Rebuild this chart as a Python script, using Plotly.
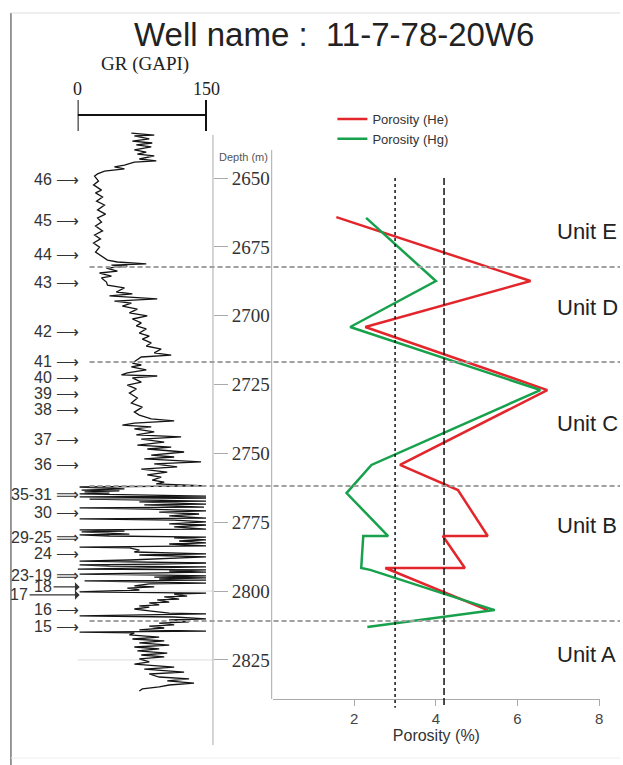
import plotly.graph_objects as go

# ---------------- data ----------------
# Gamma-ray log (depth in m, GR in GAPI)
gr_depth = [
    2633.7, 2634.4, 2634.7, 2635.8, 2636.6, 2637.3, 2638.0, 2638.7, 2639.8, 2640.6,
    2641.3, 2642.0, 2643.1, 2643.8, 2644.2, 2645.3, 2646.0, 2646.7, 2647.5, 2648.5,
    2649.3, 2651.1, 2652.5, 2654.4, 2655.4, 2656.9, 2658.4, 2659.8, 2661.6, 2663.1,
    2664.5, 2666.0, 2667.4, 2669.2, 2670.7, 2672.1, 2673.6, 2675.1, 2676.9, 2678.3,
    2679.8, 2680.5, 2681.2, 2681.6, 2682.0, 2682.7, 2683.8, 2684.5, 2685.6, 2686.3,
    2687.8, 2688.9, 2689.9, 2691.4, 2692.1, 2692.8, 2693.9, 2694.7, 2695.4, 2696.5,
    2697.6, 2699.0, 2700.1, 2701.2, 2702.6, 2703.7, 2704.8, 2706.3, 2707.4, 2708.5,
    2709.9, 2711.0, 2712.1, 2713.5, 2714.3, 2715.0, 2716.1, 2717.2, 2717.9, 2718.6,
    2719.7, 2720.8, 2721.5, 2721.9, 2722.6, 2724.1, 2725.2, 2726.6, 2728.1, 2729.9,
    2731.7, 2733.2, 2735.0, 2736.1, 2737.5, 2738.2, 2739.0, 2739.7, 2740.4, 2741.1,
    2742.2, 2743.3, 2744.0, 2744.8, 2745.9, 2747.0, 2747.7, 2748.4, 2749.5, 2750.6,
    2751.3, 2752.0, 2753.1, 2753.8, 2754.9, 2755.7, 2756.8, 2757.8, 2758.6, 2759.7,
    2760.4, 2761.1, 2761.8, 2762.2, 2762.9, 2763.3, 2763.6, 2764.0, 2764.4, 2764.7,
    2765.5, 2765.8, 2766.2, 2766.6, 2767.3, 2767.6, 2768.4, 2768.7, 2769.5, 2769.8,
    2770.2, 2770.9, 2771.3, 2772.0, 2772.7, 2773.5, 2773.8, 2774.2, 2774.9, 2775.6,
    2776.0, 2776.7, 2777.5, 2777.8, 2778.2, 2778.5, 2779.3, 2779.6, 2780.0, 2780.4,
    2780.7, 2781.4, 2781.8, 2782.5, 2782.9, 2783.6, 2784.0, 2784.3, 2785.1, 2785.8,
    2786.5, 2786.9, 2787.6, 2788.7, 2789.1, 2789.4, 2789.8, 2790.2, 2790.5, 2790.9,
    2791.2, 2791.6, 2792.0, 2792.3, 2792.7, 2793.1, 2793.4, 2793.8, 2794.2, 2794.5,
    2794.9, 2795.2, 2795.6, 2796.0, 2796.3, 2796.7, 2797.1, 2797.4, 2798.1, 2798.5,
    2798.9, 2799.6, 2800.3, 2800.7, 2801.1, 2801.8, 2802.1, 2802.9, 2803.2, 2804.0,
    2804.3, 2805.0, 2805.4, 2805.8, 2806.5, 2807.2, 2808.0, 2808.3, 2808.7, 2809.0,
    2809.4, 2810.1, 2810.5, 2811.2, 2811.6, 2812.3, 2812.7, 2813.4, 2814.1, 2814.5,
    2814.9, 2815.2, 2815.9, 2816.7, 2817.4, 2818.1, 2818.8, 2819.6, 2820.3, 2821.0,
    2821.7, 2822.5, 2823.2, 2823.9, 2824.6, 2825.7, 2826.5, 2827.6, 2828.3, 2829.4,
    2830.1, 2831.2, 2831.9, 2832.6, 2833.4, 2834.1, 2834.8, 2835.5, 2836.3,
]
gr_api = [
    62.8, 89.5, 66.3, 83.7, 64.0, 87.2, 68.6, 86.0, 66.3, 80.2,
    69.8, 89.5, 72.1, 91.9, 66.3, 54.7, 43.0, 54.7, 31.4, 23.3,
    19.8, 24.4, 18.6, 27.9, 20.9, 29.1, 22.1, 31.4, 23.3, 32.6,
    23.3, 27.9, 20.9, 29.1, 19.8, 26.7, 18.6, 25.6, 20.9, 27.9,
    34.9, 46.5, 80.2, 39.5, 58.1, 33.7, 46.5, 25.6, 39.5, 27.9,
    33.7, 34.9, 54.7, 45.3, 64.0, 37.2, 93.0, 43.0, 62.8, 52.3,
    69.8, 60.5, 81.4, 64.0, 74.4, 68.6, 80.2, 72.1, 83.7, 75.6,
    86.0, 80.2, 97.7, 89.5, 109.3, 74.4, 68.6, 64.0, 74.4, 62.8,
    80.2, 58.1, 51.2, 93.0, 64.0, 74.4, 58.1, 68.6, 60.5, 69.8,
    62.8, 75.6, 66.3, 72.1, 86.0, 112.8, 66.3, 52.3, 86.0, 66.3,
    89.5, 68.6, 120.9, 74.4, 101.2, 69.8, 109.3, 81.4, 124.4, 86.0,
    112.8, 77.9, 144.2, 89.5, 116.3, 74.4, 104.7, 81.4, 97.7, 87.2,
    101.2, 91.9, 150.0, 2.3, 54.7, 4.7, 48.8, 8.1, 37.2, 2.3,
    150.0, 2.3, 150.0, 14.0, 150.0, 72.1, 150.0, 77.9, 147.7, 2.3,
    83.7, 150.0, 95.3, 141.9, 107.0, 150.0, 2.3, 112.8, 150.0, 107.0,
    150.0, 112.8, 150.0, 2.3, 54.7, 4.7, 60.5, 2.3, 37.2, 150.0,
    112.8, 150.0, 118.6, 150.0, 107.0, 150.0, 2.3, 60.5, 72.1, 66.3,
    150.0, 72.1, 150.0, 60.5, 2.3, 83.7, 150.0, 95.3, 2.3, 37.2,
    150.0, 83.7, 0.0, 150.0, 107.0, 150.0, 95.3, 2.3, 101.2, 150.0,
    89.5, 150.0, 95.3, 150.0, 8.1, 83.7, 150.0, 83.7, 66.3, 89.5,
    58.1, 72.1, 2.3, 150.0, 112.8, 127.9, 101.2, 118.6, 93.0, 107.0,
    83.7, 95.3, 72.1, 83.7, 66.3, 83.7, 107.0, 150.0, 77.9, 2.3,
    112.8, 150.0, 107.0, 130.2, 95.3, 112.8, 83.7, 101.2, 72.1, 150.0,
    2.3, 66.3, 60.5, 95.3, 64.0, 101.2, 72.1, 107.0, 66.3, 95.3,
    69.8, 104.7, 74.4, 101.2, 72.1, 83.7, 66.3, 112.8, 77.9, 124.4,
    83.7, 95.3, 130.2, 104.7, 136.0, 107.0, 95.3, 75.6, 72.1,
]

# Core porosity (%), helium and mercury methods
he_depth = [2664.2, 2687.4, 2704.1, 2727.0, 2754.2, 2763.3, 2780.0, 2780.0, 2791.6, 2791.6, 2806.9]
he_poro = [1.56, 6.32, 2.27, 6.73, 3.12, 4.54, 5.27, 4.17, 4.71, 2.76, 5.27]
hg_depth = [2664.5, 2687.4, 2704.1, 2727.0, 2754.2, 2764.4, 2780.0, 2780.0, 2791.6, 2792.3, 2806.9, 2813.0]
hg_poro = [2.29, 4.00, 1.90, 6.56, 2.42, 1.81, 2.83, 2.22, 2.17, 2.39, 5.44, 2.32]

# Porosity cut-off lines
cutoff_values = [3.0, 4.2]
cutoff_dash = ["dot", "7px,3px"]
cutoff_top, cutoff_base = 2650.0, 2842.4

# Unit boundaries and labels
unit_bounds = [2682.3, 2716.8, 2761.8, 2810.9]
unit_names = ["Unit E", "Unit D", "Unit C", "Unit B", "Unit A"]
unit_depths = [2669.6, 2697.2, 2739.0, 2776.0, 2823.2]

# Sample numbers along the GR track
sample_labels = ["46", "45", "44", "43", "42", "41", "40", "39", "38", "37", "36",
                 "35-31", "30", "29-25", "24", "23-19", "18", "17", "16", "15"]
sample_depths = [2650.4, 2665.6, 2677.6, 2688.1, 2705.6, 2716.5, 2722.3, 2728.1, 2733.9,
                 2745.1, 2754.2, 2765.1, 2771.6, 2780.4, 2786.2, 2794.5, 2798.5, 2801.4,
                 2806.5, 2813.0]

depth_ticks = [2650, 2675, 2700, 2725, 2750, 2775, 2800, 2825]
grid_depths = [2800, 2825]
poro_ticks = [2, 4, 6, 8]
gr_scale = [0, 150]

# ---------------- layout helpers ----------------
W, H = 623, 765
SANS = "Liberation Sans, Arial, sans-serif"
SERIF = "Liberation Serif, Times New Roman, serif"


def fx(p):
    return p / W


def fy(p):
    return 1 - p / H


def note(x, y, text, size, family=SANS, color="#222", xanchor="center", xref="paper", yref="paper"):
    return dict(x=x, y=y, xref=xref, yref=yref, text=text, showarrow=False,
                xanchor=xanchor, yanchor="middle", font=dict(family=family, size=size, color=color))


DEPTH_TOP = 2650 - 178 / 2.754
DEPTH_BOT = 2650 + (H - 178) / 2.754

fig = go.Figure()

fig.add_trace(go.Scatter(
    x=gr_api, y=gr_depth, xaxis="x", yaxis="y", mode="lines",
    line=dict(color="#151515", width=1.3), showlegend=False, hoverinfo="skip",
))
fig.add_trace(go.Scatter(
    x=he_poro, y=he_depth, xaxis="x2", yaxis="y", mode="lines",
    name="Porosity (He)", line=dict(color="#e3262b", width=2.5),
))
fig.add_trace(go.Scatter(
    x=hg_poro, y=hg_depth, xaxis="x2", yaxis="y", mode="lines",
    name="Porosity (Hg)", line=dict(color="#17a14c", width=2.5),
))

shapes = []
annotations = []

# page frame
shapes.append(dict(type="line", xref="paper", yref="paper", x0=fx(11), x1=fx(11), y0=fy(13), y1=0,
                   line=dict(color="#777", width=1.5)))
shapes.append(dict(type="line", xref="paper", yref="paper", x0=fx(11), x1=1, y0=fy(13), y1=fy(13),
                   line=dict(color="#ddd", width=1)))
shapes.append(dict(type="line", xref="paper", yref="paper", x0=fx(11), x1=1, y0=fy(758), y1=fy(758),
                   line=dict(color="#eee", width=1)))

# depth track line and porosity panel left edge
shapes.append(dict(type="line", xref="paper", yref="paper", x0=fx(214), x1=fx(214), y0=fy(135), y1=fy(745),
                   line=dict(color="#aaa", width=1)))
shapes.append(dict(type="line", xref="paper", yref="paper", x0=fx(273), x1=fx(273), y0=fy(150), y1=fy(699),
                   line=dict(color="#aaa", width=1)))

# faint depth grid in the GR track
for d in grid_depths:
    shapes.append(dict(type="line", xref="paper", yref="y", x0=fx(78), x1=fx(214), y0=d, y1=d,
                       line=dict(color="#ddd", width=1), layer="below"))

# GR scale bar
shapes.append(dict(type="line", xref="x", yref="paper", x0=gr_scale[0], x1=gr_scale[1], y0=fy(115), y1=fy(115),
                   line=dict(color="#111", width=2)))
for v in gr_scale:
    shapes.append(dict(type="line", xref="x", yref="paper", x0=v, x1=v, y0=fy(100), y1=fy(131),
                       line=dict(color="#111", width=2)))
    annotations.append(note(v, fy(89), str(v), 18, family=SERIF, xref="x"))
annotations.append(note(fx(146), fy(64), "GR (GAPI)", 19, family=SERIF))

# unit boundaries
for d in unit_bounds:
    shapes.append(dict(type="line", xref="paper", yref="y", x0=fx(90), x1=1, y0=d, y1=d,
                       line=dict(color="#a0a0a0", width=2, dash="5px,3px")))

# porosity cut-offs
for v, dsh in zip(cutoff_values, cutoff_dash):
    shapes.append(dict(type="line", xref="x2", yref="y", x0=v, x1=v, y0=cutoff_top, y1=cutoff_base,
                       line=dict(color="#111", width=1.5, dash=dsh)))

# unit names
for name, d in zip(unit_names, unit_depths):
    annotations.append(note(fx(558), d, name, 22, xanchor="left", yref="y"))

# sample numbers
for lab, d in zip(sample_labels, sample_depths):
    if lab in ("17", "18"):
        annotations.append(dict(x=fx(80), y=d, xref="paper", yref="y", text=lab, showarrow=True,
                                ax=-50 if lab == "17" else -26, ay=0, xanchor="right", yanchor="middle",
                                arrowhead=1, arrowsize=1.2, arrowwidth=1.3, arrowcolor="#333",
                                font=dict(family=SANS, size=16, color="#333")))
    else:
        arrow = "\u27f9" if "-" in lab else "\u27f6"
        annotations.append(note(fx(81), d, f"{lab} {arrow}", 16, color="#333", xanchor="right", yref="y"))

# header texts
annotations.append(note(fx(336), fy(35), "Well name :\u00a0 11-7-78-20W6", 33))
annotations.append(note(fx(218), fy(157), "Depth (m)", 11, color="#555", xanchor="left"))

fig.update_layout(
    width=W, height=H, autosize=False,
    margin=dict(l=0, r=0, t=0, b=0),
    paper_bgcolor="white", plot_bgcolor="rgba(0,0,0,0)",
    shapes=shapes, annotations=annotations,
    showlegend=True,
    legend=dict(x=fx(334), y=fy(104), xanchor="left", yanchor="top", bgcolor="rgba(0,0,0,0)",
                font=dict(family=SANS, size=13, color="#333"), itemwidth=30, tracegroupgap=0),
    xaxis=dict(domain=[fx(78), fx(212)], range=[0, 134 / 0.86], visible=False, fixedrange=True),
    xaxis2=dict(domain=[fx(274), fx(603)], range=[0, 329 / 41], anchor="free", position=fy(699),
                showline=True, linecolor="#aaa", linewidth=1, ticks="outside", ticklen=6,
                tickcolor="#aaa", tickvals=poro_ticks, showgrid=False, zeroline=False,
                tickfont=dict(family=SANS, size=15, color="#444"),
                title=dict(text="Porosity (%)", font=dict(family=SANS, size=16, color="#333"), standoff=2)),
    yaxis=dict(domain=[0, 1], range=[DEPTH_BOT, DEPTH_TOP], anchor="free", position=fx(214), side="right",
               showline=False, showgrid=False, zeroline=False, ticks="outside", ticklen=14,
               tickcolor="#aaa", tickvals=depth_ticks,
               tickfont=dict(family=SERIF, size=19, color="#333")),
)

fig.write_html("out.html")
